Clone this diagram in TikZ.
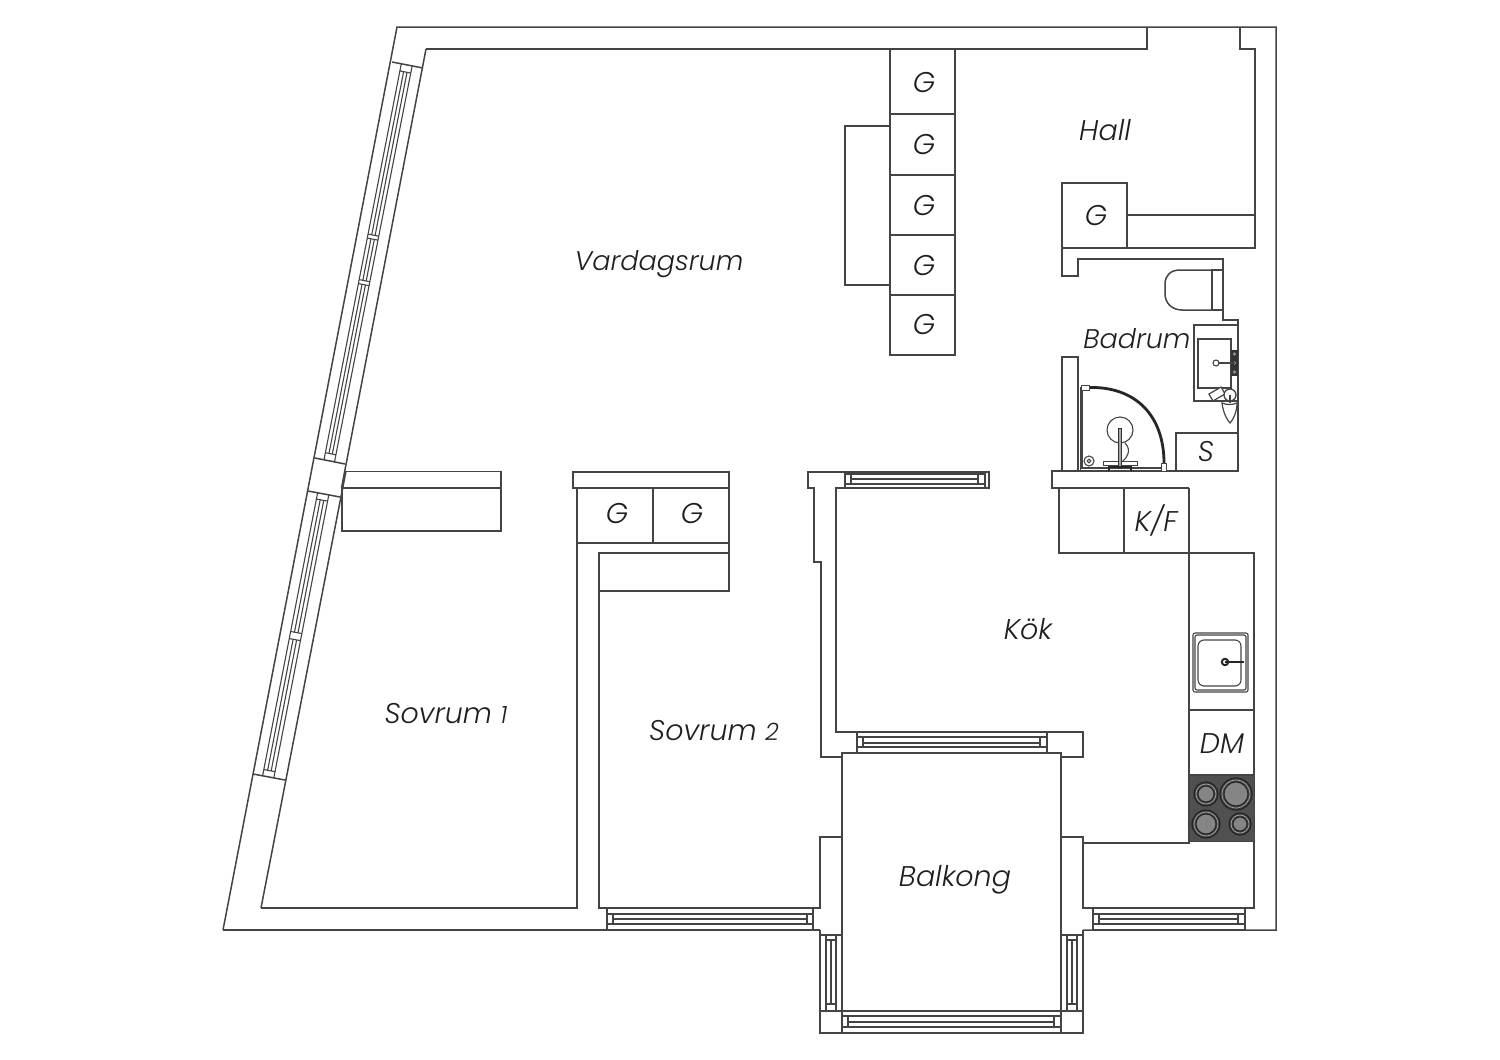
\documentclass[tikz,border=0pt]{standalone}
\usepackage{fontspec}
\usetikzlibrary{calc}
\newfontfamily\lblfont[UprightFont=* Light Italic]{Poppins}
\definecolor{ln}{HTML}{444444}
\definecolor{hob}{HTML}{505050}
\tikzset{
  wall/.style={draw=ln,line width=1.5pt,line join=miter},
  thin wall/.style={draw=ln,line width=1.1pt},
  lbl/.style={inner sep=0pt,text=black!88,font=\lblfont\fontsize{28.5}{28.5}\selectfont},
  glbl/.style={lbl}
}
% horizontal window: x0 x1 inner-x0 inner-x1, y0..y4
\newcommand{\hwin}[9]{%
  \draw[thin wall] (#1,#5) rectangle (#2,#9);
  \draw[thin wall] (#1,#6) -- (#2,#6);
  \draw[thin wall] (#1,#8) -- (#2,#8);
  \draw[thin wall] (#3,#6) rectangle (#4,#8);
  \draw[thin wall] (#3,#7) -- (#4,#7);
}
% vertical window: y0 y1 inner-y0 inner-y1, x0..x4
\newcommand{\vwin}[9]{%
  \draw[thin wall] (#5,#1) rectangle (#9,#2);
  \draw[thin wall] (#6,#1) -- (#6,#2);
  \draw[thin wall] (#8,#1) -- (#8,#2);
  \draw[thin wall] (#6,#3) rectangle (#8,#4);
  \draw[thin wall] (#7,#3) -- (#7,#4);
}
% slanted window run: corners tl tr bl br
\newcommand{\slrun}[4]{%
  \coordinate (tl) at (#1); \coordinate (tr) at (#2);
  \coordinate (bl) at (#3); \coordinate (br) at (#4);
  \draw[wall] (tl) -- (tr);
  \draw[wall] (bl) -- (br);
  \foreach \f in {0.30,0.65}
    \draw[thin wall] ($(tl)!\f!(tr)$) -- ($(bl)!\f!(br)$);
}
\newcommand{\slseg}[2]{%
  \foreach \f in {0.42,0.53}
    \draw[thin wall] ($($(tl)!#1!(bl)$)!\f!($(tr)!#1!(br)$)$) -- ($($(tl)!#2!(bl)$)!\f!($(tr)!#2!(br)$)$);
  \draw[thin wall] ($($(tl)!#1!(bl)$)!0.30!($(tr)!#1!(br)$)$) -- ($($(tl)!#1!(bl)$)!0.65!($(tr)!#1!(br)$)$);
  \draw[thin wall] ($($(tl)!#2!(bl)$)!0.30!($(tr)!#2!(br)$)$) -- ($($(tl)!#2!(bl)$)!0.65!($(tr)!#2!(br)$)$);
}
\begin{document}
\begin{tikzpicture}[x=1pt,y=-1pt]
\useasboundingbox[fill=white] (0,0) rectangle (1500,1060);

% outer shell
\draw[wall] (223,930) -- (397,27) -- (1276,27) -- (1276,930) -- (1083,930);
\draw[wall] (223,930) -- (820,930);
% top inner wall
\draw[wall] (261,908) -- (346,471) ;
\draw[wall] (341.5,488) -- (426,49) ;
\draw[wall] (426,49) -- (1147,49) -- (1147,27);
\draw[wall] (1240,27) -- (1240,49) -- (1255,49) -- (1255,248) -- (1062,248);
\draw[wall] (1127,215) -- (1255,215);

% slanted windows
\slrun{392,62}{423,68}{315,458}{345,464}
\slseg{0.018}{0.43}
\slseg{0.555}{0.982}
\slseg{0.44}{0.545}
\slrun{308,491}{340,497}{253,774}{285,780}
\slseg{0.022}{0.49}
\slseg{0.515}{0.978}

% living room wall stub
\draw[wall] (345,471.5) -- (501,471.5) -- (501,531) -- (342,531) -- (342,488) -- (501,488);

% wardrobes column
\draw[wall] (890,49) rectangle (955,355);
\foreach \yy in {114,175,235,295} \draw[wall] (890,\yy) -- (955,\yy);
\draw[wall] (890,126) -- (845,126) -- (845,285) -- (890,285);

% hall G
\draw[wall] (1062,183) rectangle (1127,248);
% bathroom walls
\draw[wall] (1062,248) -- (1062,276) -- (1078,276) -- (1078,259) -- (1223,259) -- (1223,320) -- (1238,320) -- (1238,471) -- (1052,471) -- (1052,488) -- (1189,488);
\draw[wall] (1078,471) -- (1078,357) -- (1062,357) -- (1062,471);
% toilet
\draw[wall] (1212,270) rectangle (1223,310);
\draw[wall] (1212,270) -- (1180,270) .. controls (1170,270) and (1165,276) .. (1165,284) -- (1165,294) .. controls (1165,303) and (1172,310) .. (1182,310) -- (1212,310);
% basin
\draw[wall] (1238,325) -- (1194,325) -- (1194,401) -- (1238,401);
\draw[wall] (1198,339) rectangle (1231,388);
\fill[black!80] (1231,350) rectangle (1238,376);
\foreach \yy in {354,363,372} \fill[black!45] (1234.5,\yy) circle (1.8);
\draw[draw=ln,line width=2.2pt] (1216,363) -- (1235,363);
\draw[draw=ln,line width=1.1pt,fill=white] (1216,363) circle (3);
\draw[draw=ln,line width=1.2pt,fill=white,rotate around={30:(1217,394)}] (1210,390) rectangle (1224,398);
\draw[draw=ln,line width=1.2pt,fill=white] (1222,403) .. controls (1223,412) and (1227,420) .. (1230,423) .. controls (1233,420) and (1237,412) .. (1237,403) .. controls (1232,405) and (1227,405) .. (1222,403) -- cycle;
\draw[draw=ln,line width=1.3pt,fill=white] (1230,395) circle (6);
\draw[draw=ln,line width=1.3pt] (1230,395) -- (1230,403);
% S
\draw[wall] (1176,471) -- (1176,433) -- (1238,433);
% shower
\draw[thin wall] (1080.5,387) -- (1080.5,471);
\draw[thin wall] (1082,389) -- (1082,468) -- (1161,468);
\draw[draw=black!85,line width=2.8pt] (1088,387.5) .. controls (1136,386) and (1164,416) .. (1164,463);
\draw[draw=ln,line width=1pt,fill=white] (1081,385.5) rectangle (1089,390);
\draw[draw=ln,line width=1pt,fill=white] (1161.5,463) rectangle (1166,471);
\draw[thin wall] (1120,430) circle (13);
\draw[thin wall] (1125,443) .. controls (1132,450) and (1127,458) .. (1122,462);
\draw[draw=ln,line width=1pt,fill=white] (1103,461) rectangle (1137,465);
\draw[draw=black!80,line width=1pt,fill=black!35] (1118.5,428) rectangle (1121.5,468);
\draw[draw=black!85,line width=1.4pt] (1109,471) -- (1109,467) -- (1131,467) -- (1131,471);
\draw[thin wall] (1089,461) circle (5);
\draw[thin wall] (1089,461) circle (1.8);

% K/F box and kitchen
\draw[wall] (1059,488) -- (1059,553) -- (1189,553);
\draw[wall] (1124,488) -- (1124,553);
\draw[wall] (1189,488) -- (1189,843) -- (1083,843);
\draw[wall] (1083,908) -- (1254,908) -- (1254,553) -- (1189,553);
\draw[wall] (1189,710) -- (1254,710);
\draw[wall] (1189,775) -- (1254,775);
% kitchen sink
\draw[thin wall,rounded corners=2pt] (1193,633) rectangle (1248,692);
\draw[thin wall,rounded corners=2pt] (1195,635) rectangle (1246,690);
\draw[thin wall,rounded corners=6pt] (1198,640) rectangle (1241,686);
\draw[draw=black!85,line width=1.3pt] (1225,662) -- (1244,662);
\draw[draw=black!85,line width=2pt] (1225,662) circle (3.2);
% hob
\fill[hob,draw=ln,line width=1pt] (1189,775) rectangle (1254,841);
\foreach \cx/\cy/\rr in {1206/794/12,1236/794/16,1206/824/14,1240/824/11}{
  \draw[draw=black!85,line width=1.2pt,fill=black!75] (\cx,\cy) circle (\rr);
  \draw[draw=black!35,line width=0.7pt] (\cx,\cy) circle (\rr-2);
  \draw[draw=black!85,line width=1pt,fill=black!48] (\cx,\cy) circle (\rr-4);
}

% Bedroom G block
\draw[wall] (573,472) rectangle (729,488);
\draw[wall] (577,488) -- (577,908) -- (261,908);
\draw[wall] (577,543) -- (729,543) -- (729,488);
\draw[wall] (653,488) -- (653,543);
\draw[wall] (729,543) -- (729,591) -- (599,591);
\draw[wall] (729,553) -- (599,553) -- (599,908) -- (813,908) -- (813,930) -- (820,930);
\hwin{607}{813}{613}{807}{908}{914}{919}{924}{930}

% kitchen top wall and window
\draw[wall] (845,472) -- (808,472) -- (808,488) -- (814,488) -- (814,562) -- (821,562) -- (821,757) -- (842,757);
\draw[wall] (845,488) -- (836,488) -- (836,732) -- (857,732);
\hwin{845}{985}{851}{978}{472}{474}{479}{484}{488}
\draw[wall] (985,472) rectangle (989,488);
% kitchen bottom window
\draw[wall] (1047,732) -- (1083,732) -- (1083,757) -- (1061,757);
\hwin{857}{1047}{863}{1040}{732}{737}{743}{747}{753}

% balcony
\draw[wall] (842,753) rectangle (1061,1033);
\draw[wall] (842,837) -- (820,837) -- (820,908) -- (813,908);
\draw[wall] (1061,837) -- (1083,837) -- (1083,908) -- (1093,908) -- (1093,930);
\draw[wall] (820,930) -- (820,1033) -- (1083,1033) -- (1083,930);
\draw[wall] (820,1011) -- (1083,1011);
\hwin{842}{1061}{848}{1054}{1011}{1016}{1022}{1027}{1033}
\vwin{935}{1011}{940}{1004}{820}{826}{831}{836}{842}
\vwin{935}{1011}{940}{1004}{1061}{1067}{1072}{1077}{1083}
\hwin{1093}{1245}{1099}{1238}{908}{914}{919}{924}{930}

% labels
\node[lbl,font=\lblfont\fontsize{27}{27}\selectfont] (vardagsrum) at (659,264) {Vardagsrum};
\node[lbl] (hall) at (1105,130) {Hall};
\node[lbl,font=\lblfont\fontsize{27}{27}\selectfont] (badrum) at (1137,339) {Badrum};
\node[lbl] (kok) at (1028,629) {Kök};
\node[lbl] (balkong) at (955,880) {Balkong};
\node[lbl] (sovruma) at (446,714) {Sovrum {\fontsize{24}{24}\selectfont 1}};
\node[lbl] (sovrumb) at (714,731) {Sovrum {\fontsize{24}{24}\selectfont 2}};
\node[lbl] (kf) at (1156,520) {K/F};
\node[lbl] (dm) at (1222,744) {DM};
\node[lbl] (s) at (1206,452) {S};
\node[glbl] (ga) at (924,83) {G};
\node[glbl] (gb) at (924,145) {G};
\node[glbl] (gc) at (924,206) {G};
\node[glbl] (gd) at (924,266) {G};
\node[glbl] (ge) at (924,325) {G};
\node[glbl] (gf) at (1096,216) {G};
\node[glbl] (gg) at (617,514) {G};
\node[glbl] (gh) at (692,514) {G};
\end{tikzpicture}
\end{document}
